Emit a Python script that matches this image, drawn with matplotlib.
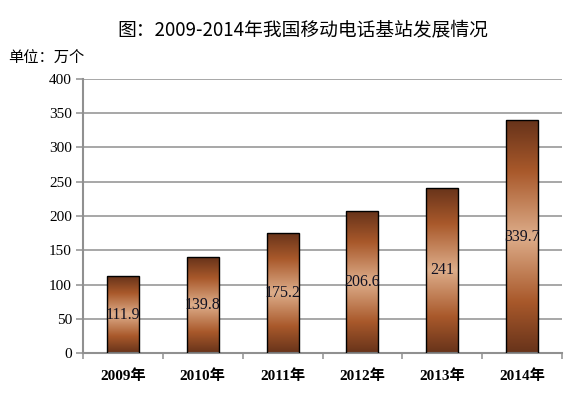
import matplotlib
matplotlib.use("Agg")
import matplotlib.pyplot as plt
import numpy as np
from matplotlib.colors import LinearSegmentedColormap
from matplotlib.patches import Rectangle

categories = ["2009年", "2010年", "2011年", "2012年", "2013年", "2014年"]
values = [111.9, 139.8, 175.2, 206.6, 241, 339.7]
labels = ["111.9", "139.8", "175.2", "206.6", "241", "339.7"]
yticks = [0, 50, 100, 150, 200, 250, 300, 350, 400]

plt.rcParams['font.family'] = ['Liberation Serif', 'Noto Sans CJK SC']

fig = plt.figure(figsize=(5.65, 3.93), dpi=100)
ax = fig.add_axes([83/565, 1-353/393, (562-83)/565, (353-79)/393])

cmap = LinearSegmentedColormap.from_list("brz", [
    (0.0, "#67331A"), (0.22, "#A9592B"), (0.5, "#DDAD8A"),
    (0.78, "#A9592B"), (1.0, "#67331A")])
grad = np.linspace(0, 1, 256).reshape(-1, 1)

x = np.arange(len(categories))
w = 0.4
bars = ax.bar(x, values, width=w, facecolor="none", edgecolor="black", linewidth=1.0, zorder=3)
for b in bars:
    x0, y0, bw, bh = b.get_x(), b.get_y(), b.get_width(), b.get_height()
    im = ax.imshow(grad, cmap=cmap, aspect="auto", extent=[x0, x0+bw, y0, y0+bh],
                   origin="lower", zorder=2, interpolation="bilinear")
    clip = Rectangle((x0, y0), bw, bh, transform=ax.transData)
    im.set_clip_path(clip)

for xi, v, lab in zip(x, values, labels):
    ax.text(xi, v/2, lab, ha="center", va="center", fontsize=11.5,
            color="#111122", zorder=4, family=['Liberation Serif'])

ax.set_xlim(-0.5, len(categories)-0.5)
ax.set_ylim(0, 400)
ax.set_yticks(yticks)
ax.set_yticklabels([str(t) for t in yticks], fontsize=11, family=['Liberation Serif'])
ax.yaxis.grid(True, color="#A0A0A0", linewidth=1.3, zorder=0)
ax.set_axisbelow(True)

ax.set_xticks(x)
ax.set_xticklabels(categories, fontsize=11, fontweight="bold")
ax.set_xticks(np.arange(-0.5, len(categories)), minor=True)
ax.tick_params(axis="x", which="major", length=0, pad=12)
ax.tick_params(axis="x", which="minor", length=4, color="#A0A0A0", width=1.3)
ax.tick_params(axis="y", length=5, color="#A0A0A0", width=1.3, pad=3)

for s in ["top", "right"]:
    ax.spines[s].set_visible(False)
for s in ["left", "bottom"]:
    ax.spines[s].set_color("#909090")
    ax.spines[s].set_linewidth(1.5)

fig.text(303/565, 1-30/393, "图：2009-2014年我国移动电话基站发展情况", ha="center", va="center",
         fontsize=13.5, family=['Noto Sans CJK SC'])
fig.text(8/565, 1-57/393, "单位：万个", ha="left", va="center", fontsize=11,
         family=['Noto Sans CJK SC'])

fig.savefig("out.png", dpi=100)
